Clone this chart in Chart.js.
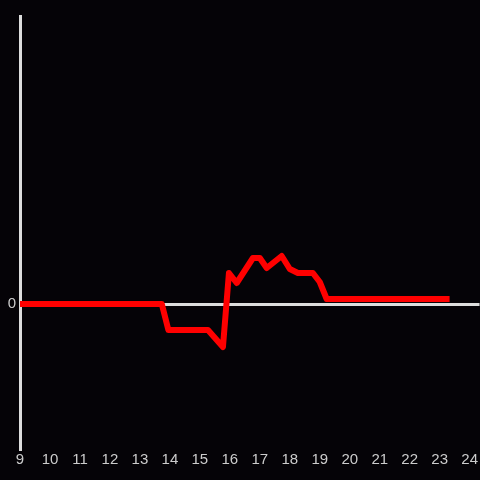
<!DOCTYPE html>
<html>
<head>
<meta charset="utf-8">
<script src="https://cdn.jsdelivr.net/npm/chart.js@4"></script>
<style>
  html, body { margin: 0; padding: 0; background: #050307; }
  #wrap { width: 480px; height: 480px; }
</style>
</head>
<body>
<div id="wrap"><canvas id="lineChart"></canvas></div>
<script>
// x positions (hours) and values
const xValues = [9, 13.73, 13.95, 15.27, 15.77, 15.97, 16.23, 16.77, 17.0, 17.23, 17.73, 18.0, 18.27, 18.77, 19.0, 19.23, 23.33];
const yValues = [0, 0, -2.6, -2.6, -4.3, 3.1, 2.1, 4.6, 4.6, 3.6, 4.8, 3.5, 3.1, 3.1, 2.2, 0.5, 0.5];

const xTicks = [9, 10, 11, 12, 13, 14, 15, 16, 17, 18, 19, 20, 21, 22, 23, 24];
const xMin = 9;
const xMax = 24.33;
const yMin = -14.5;
const yMax = 28.8;

const points = xValues.map((x, i) => ({ x: x, y: yValues[i] }));

new Chart(document.getElementById('lineChart'), {
    type: 'line',
    data: {
        datasets: [{
            data: points,
            borderColor: '#ff0000',
            borderWidth: 6,
            pointRadius: 0,
            tension: 0,
            borderJoinStyle: 'round',
            fill: false
        }]
    },
    options: {
        responsive: true,
        maintainAspectRatio: false,
        animation: false,
        layout: { padding: { top: 16, left: 0, right: 0, bottom: 0 } },
        plugins: { legend: { display: false }, tooltip: { enabled: false } },
        scales: {
            x: {
                type: 'linear',
                min: xMin,
                max: xMax,
                grid: { display: false, drawTicks: false },
                border: { display: false },
                afterBuildTicks: axis => {
                    axis.ticks = xTicks.map(v => ({ value: v }));
                },
                afterFit: axis => { axis.height = 31; },
                ticks: {
                    maxRotation: 0,
                    autoSkip: false,
                    color: '#cccccc',
                    padding: 2,
                    font: { family: 'Liberation Sans', size: 15 }
                }
            },
            y: {
                min: yMin,
                max: yMax,
                afterBuildTicks: axis => { axis.ticks = [{ value: 0 }]; },
                afterFit: axis => { axis.width = 20; },
                border: { display: true, color: '#dddddd', width: 3 },
                grid: {
                    color: '#dddddd',
                    lineWidth: 3,
                    drawTicks: false
                },
                ticks: {
                    color: '#cccccc',
                    padding: 4,
                    font: { family: 'Liberation Sans', size: 15 }
                }
            }
        }
    }
});
</script>
</body>
</html>
